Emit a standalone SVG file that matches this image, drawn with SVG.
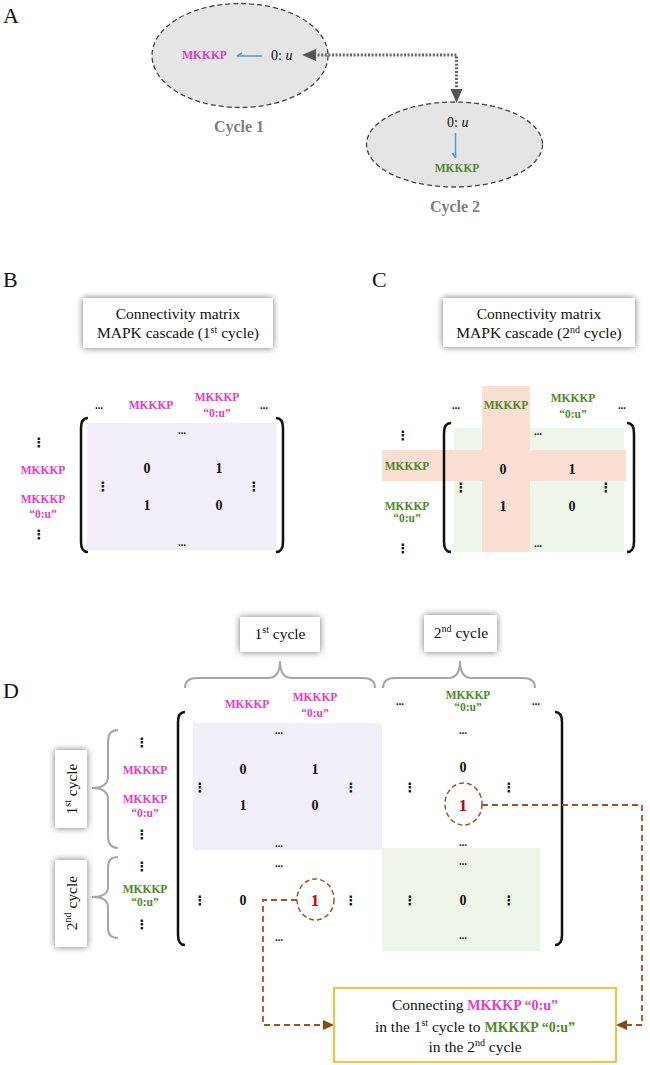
<svg xmlns="http://www.w3.org/2000/svg" width="650" height="1065" viewBox="0 0 650 1065">
<style>
text{font-family:'Liberation Serif','Times New Roman','DejaVu Serif',serif;}
.pl{font-size:22px;fill:#111;}
.mg{font-weight:bold;font-size:11.5px;fill:#e23ec3;text-anchor:middle;}
.gr{font-weight:bold;font-size:11.5px;fill:#4f8a2b;text-anchor:middle;}
.num{font-weight:bold;font-size:14px;fill:#111;text-anchor:middle;}
.red{font-weight:bold;font-size:17px;fill:#cc0000;text-anchor:middle;}
.hd{font-family:'DejaVu Sans',sans-serif;font-weight:bold;font-size:8px;fill:#111;text-anchor:middle;}
.vd{font-family:'DejaVu Sans',sans-serif;font-weight:bold;font-size:13px;fill:#111;text-anchor:middle;}
.ttl{font-size:15.5px;fill:#111;text-anchor:middle;}
.cyc{font-weight:bold;font-size:16px;fill:#7f7f7f;text-anchor:middle;}
.brk{fill:none;stroke:#111;stroke-width:2.5;}
.brc{fill:none;stroke:#a6a6a6;stroke-width:2;}
.box{fill:#fff;filter:url(#sh);}
.ell{fill:#e5e5e5;stroke:#444;stroke-width:1.3;stroke-dasharray:5 3;}
.blue{fill:none;stroke:#5b9bd5;stroke-width:1.6;}
.dot{fill:none;stroke:#666;stroke-width:3;stroke-dasharray:2 1.6;}
.brn{fill:none;stroke:#a0522d;stroke-width:1.8;stroke-dasharray:6 4;}
.circ{fill:none;stroke:#a0522d;stroke-width:1.5;stroke-dasharray:5 3;}
</style>
<defs>
<filter id="sh" x="-30%" y="-40%" width="160%" height="180%">
<feGaussianBlur in="SourceAlpha" stdDeviation="3.5"/>
<feComponentTransfer><feFuncA type="linear" slope="0.55"/></feComponentTransfer>
<feMerge><feMergeNode/><feMergeNode in="SourceGraphic"/></feMerge>
</filter>
</defs>

<!-- Panel A -->
<text class="pl" x="3" y="23">A</text>
<g id="cycle1">
<ellipse class="ell" cx="240" cy="55.5" rx="88" ry="52"/>
<text class="mg" x="204.5" y="58.5">MKKKP</text>
<text x="271" y="60" font-size="14" fill="#111">0: <tspan font-style="italic">u</tspan></text>
<text class="cyc" x="239" y="132">Cycle 1</text>
</g>
<g id="cycle2">
<ellipse class="ell" cx="454.5" cy="144.5" rx="88" ry="42.5"/>
<text x="447" y="127" font-size="14" fill="#111">0: <tspan font-style="italic">u</tspan></text>
<text class="gr" x="457" y="172">MKKKP</text>
<text class="cyc" x="455" y="212">Cycle 2</text>
</g>
<g id="connectorsA">
<path class="blue" d="M262,56 L237,56 M237,56 L242,53"/>
<path class="blue" d="M455.5,133 L455.5,158 M455.5,158 L452.5,153"/>
<path class="dot" d="M314,55 L456.5,55 L456.5,90"/>
<path d="M302,55 L316,49 L316,61 Z" fill="#555"/>
<path d="M456.5,103 L450.5,89 L462.5,89 Z" fill="#555"/>
</g>

<!-- Panel B -->
<text class="pl" x="3" y="287">B</text>
<g id="titleB">
<rect class="box" x="83" y="298" width="190" height="50"/>
<text class="ttl" x="178" y="319">Connectivity matrix</text>
<text class="ttl" x="178" y="338">MAPK cascade (1<tspan font-size="10" dy="-5">st</tspan><tspan dy="5"> cycle)</tspan></text>
</g>
<g id="matrixB">
<rect x="87" y="423" width="189" height="127" fill="#f3eff9"/>
<path class="brk" d="M88,418 Q81,418 81,428 L81,542 Q81,552 88,552"/>
<path class="brk" d="M276,418 Q283,418 283,428 L283,542 Q283,552 276,552"/>
<text class="hd" x="99" y="409">…</text>
<text class="mg" x="151" y="409">MKKKP</text>
<text class="mg" x="217" y="401">MKKKP</text>
<text class="mg" x="217" y="417">“0:u”</text>
<text class="hd" x="264" y="409">…</text>
<text class="vd" x="39" y="447">⋮</text>
<text class="mg" x="43" y="474">MKKKP</text>
<text class="mg" x="43" y="503">MKKKP</text>
<text class="mg" x="43" y="518">“0:u”</text>
<text class="vd" x="39" y="539">⋮</text>
<text class="hd" x="182" y="434">…</text>
<text class="num" x="147" y="473">0</text>
<text class="num" x="219" y="473">1</text>
<text class="num" x="147" y="510">1</text>
<text class="num" x="219" y="510">0</text>
<text class="vd" x="103" y="491">⋮</text>
<text class="vd" x="254" y="491">⋮</text>
<text class="hd" x="182" y="546">…</text>
</g>

<!-- Panel C -->
<text class="pl" x="372" y="287">C</text>
<g id="titleC">
<rect class="box" x="443" y="298" width="192" height="49"/>
<text class="ttl" x="539" y="319">Connectivity matrix</text>
<text class="ttl" x="539" y="338">MAPK cascade (2<tspan font-size="10" dy="-5">nd</tspan><tspan dy="5"> cycle)</tspan></text>
</g>
<g id="matrixC">
<rect x="454" y="428" width="170" height="124" fill="#eef5e9"/>
<rect x="482" y="386" width="48" height="166" fill="#fadfd2"/>
<rect x="382" y="450" width="244" height="31" fill="#fadfd2"/>
<path class="brk" d="M451,423 Q444,423 444,433 L444,542 Q444,552 451,552"/>
<path class="brk" d="M627,423 Q634,423 634,433 L634,542 Q634,552 627,552"/>
<text class="hd" x="456" y="409">…</text>
<text class="gr" x="506" y="409">MKKKP</text>
<text class="gr" x="573" y="402">MKKKP</text>
<text class="gr" x="573" y="418">“0:u”</text>
<text class="hd" x="622" y="409">…</text>
<text class="vd" x="403" y="440">⋮</text>
<text class="gr" x="407" y="470">MKKKP</text>
<text class="gr" x="407" y="510">MKKKP</text>
<text class="gr" x="407" y="522">“0:u”</text>
<text class="vd" x="403" y="553">⋮</text>
<text class="hd" x="538" y="435">…</text>
<text class="num" x="503" y="474">0</text>
<text class="num" x="572" y="474">1</text>
<text class="num" x="503" y="511">1</text>
<text class="num" x="572" y="511">0</text>
<text class="vd" x="461" y="492">⋮</text>
<text class="vd" x="606" y="492">⋮</text>
<text class="hd" x="538" y="547">…</text>
</g>

<!-- Panel D -->
<text class="pl" x="3" y="698">D</text>
<g id="cycle1box">
<rect class="box" x="240" y="617" width="80" height="35"/>
<text class="ttl" x="280" y="639" font-size="16">1<tspan font-size="10" dy="-6">st</tspan><tspan dy="6"> cycle</tspan></text>
</g>
<g id="cycle2box">
<rect class="box" x="424" y="615" width="73" height="37"/>
<text class="ttl" x="461" y="638" font-size="16">2<tspan font-size="10" dy="-6">nd</tspan><tspan dy="6"> cycle</tspan></text>
</g>
<g id="rowbox1">
<rect class="box" x="55" y="750" width="32" height="78"/>
<text class="ttl" transform="translate(71,789) rotate(-90)" y="5.5" font-size="16">1<tspan font-size="10" dy="-6">st</tspan><tspan dy="6"> cycle</tspan></text>
</g>
<g id="rowbox2">
<rect class="box" x="55" y="860" width="32" height="87"/>
<text class="ttl" transform="translate(71,903) rotate(-90)" y="5.5" font-size="16">2<tspan font-size="10" dy="-6">nd</tspan><tspan dy="6"> cycle</tspan></text>
</g>
<g id="braces">
<path class="brc" d="M185,688 Q185,678 197,678 L268,678 Q280,678 280,661 Q280,678 292,678 L363,678 Q375,678 375,688"/>
<path class="brc" d="M383,688 Q383,678 395,678 L448,678 Q460,678 460,661 Q460,678 472,678 L523,678 Q535,678 535,688"/>
<path class="brc" d="M118,730 Q108,730 108,742 L108,776 Q108,788 92,788 Q108,788 108,800 L108,836 Q108,848 118,848"/>
<path class="brc" d="M118,857 Q108,857 108,867 L108,887 Q108,897 92,897 Q108,897 108,907 L108,928 Q108,938 118,938"/>
</g>
<g id="matrixD">
<rect x="193" y="723" width="189" height="127" fill="#f3eff9"/>
<rect x="382" y="848" width="158" height="103" fill="#eef5e9"/>
<path class="brk" d="M185,712 Q178,712 178,722 L178,935 Q178,945 185,945"/>
<path class="brk" d="M555,712 Q562,712 562,722 L562,935 Q562,945 555,945"/>
<text class="mg" x="247" y="708">MKKKP</text>
<text class="mg" x="315" y="701">MKKKP</text>
<text class="mg" x="315" y="717">“0:u”</text>
<text class="hd" x="400" y="705">…</text>
<text class="gr" x="468" y="699">MKKKP</text>
<text class="gr" x="468" y="711">“0:u”</text>
<text class="hd" x="536" y="705">…</text>
<text class="vd" x="142" y="747">⋮</text>
<text class="mg" x="145" y="774">MKKKP</text>
<text class="mg" x="145" y="803">MKKKP</text>
<text class="mg" x="145" y="817">“0:u”</text>
<text class="vd" x="142" y="839">⋮</text>
<text class="vd" x="142" y="871">⋮</text>
<text class="gr" x="145" y="893">MKKKP</text>
<text class="gr" x="145" y="906">“0:u”</text>
<text class="vd" x="142" y="929">⋮</text>
<text class="hd" x="279" y="734">…</text>
<text class="num" x="243" y="774">0</text>
<text class="num" x="315" y="774">1</text>
<text class="num" x="243" y="810">1</text>
<text class="num" x="315" y="810">0</text>
<text class="vd" x="200" y="792">⋮</text>
<text class="vd" x="351" y="792">⋮</text>
<text class="hd" x="279" y="847">…</text>
<text class="hd" x="463" y="734">…</text>
<text class="num" x="463" y="772">0</text>
<text class="red" x="463" y="811">1</text>
<ellipse class="circ" cx="463.5" cy="804" rx="18.5" ry="21"/>
<text class="vd" x="410" y="792">⋮</text>
<text class="vd" x="509" y="792">⋮</text>
<text class="hd" x="463" y="846">…</text>
<text class="hd" x="279" y="867">…</text>
<text class="num" x="243" y="905">0</text>
<text class="red" x="315" y="906">1</text>
<ellipse class="circ" cx="315.5" cy="899.5" rx="18.5" ry="20.5"/>
<text class="vd" x="200" y="905">⋮</text>
<text class="vd" x="351" y="905">⋮</text>
<text class="hd" x="279" y="941">…</text>
<text class="hd" x="463" y="865">…</text>
<text class="num" x="463" y="905">0</text>
<text class="vd" x="410" y="905">⋮</text>
<text class="vd" x="509" y="905">⋮</text>
<text class="hd" x="463" y="939">…</text>
</g>
<g id="connectorsD">
<path class="brn" d="M297,900 L263,900 L263,1025 L324,1025"/>
<path d="M334,1025 L323,1020 L323,1030 Z" fill="#8b4513"/>
<path class="brn" d="M482,805 L642,805 L642,1025 L627,1025"/>
<path d="M616,1025 L627,1020 L627,1030 Z" fill="#8b4513"/>
</g>
<g id="note">
<rect x="334" y="988" width="282" height="74" fill="#fff" stroke="#f5b400" stroke-width="1.6"/>
<text class="ttl" x="475" y="1010" font-size="16">Connecting <tspan font-weight="bold" fill="#e23ec3" font-size="14">MKKKP “0:u”</tspan></text>
<text class="ttl" x="475" y="1032" font-size="16">in the 1<tspan font-size="10" dy="-6">st</tspan><tspan dy="6"> cycle to </tspan><tspan font-weight="bold" fill="#4f8a2b" font-size="14">MKKKP “0:u”</tspan></text>
<text class="ttl" x="475" y="1052" font-size="16">in the 2<tspan font-size="10" dy="-6">nd</tspan><tspan dy="6"> cycle</tspan></text>
</g>
</svg>
